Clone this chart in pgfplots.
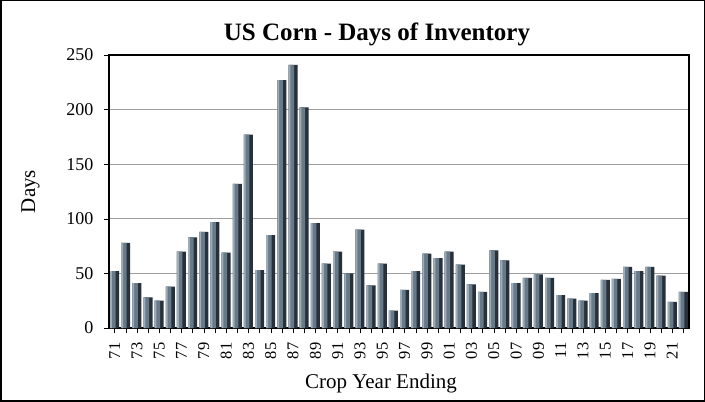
\documentclass[border=0pt]{standalone}
\usepackage{fontspec}
\setmainfont{Liberation Serif}
\usepackage{pgfplots}
\usepackage{pgfplotstable}
\pgfplotsset{compat=1.18}
\definecolor{barlight}{RGB}{155,172,186}
\definecolor{barmid}{RGB}{104,121,136}
\definecolor{bardark}{RGB}{40,48,58}

\pgfplotstableread{
x y
0 52
1 78
2 41
3 28
4 25
5 38
6 70
7 83
8 88
9 97
10 69
11 132
12 177
13 53
14 85
15 227
16 241
17 202
18 96
19 59
20 70
21 50
22 90
23 39
24 59
25 16
26 35
27 52
28 68
29 64
30 70
31 58
32 40
33 33
34 71
35 62
36 41
37 46
38 49
39 46
40 30
41 27
42 25
43 32
44 44
45 45
46 56
47 52
48 56
49 48
50 24
51 33
}\inventory

\begin{document}
\begin{tikzpicture}[x=1pt,y=1pt]
\draw[black,line width=1.5pt] (0.75,0.75) rectangle (704.25,401.25);
\begin{axis}[at={(109pt,74pt)},anchor=south west,
 scale only axis,width=580pt,height=273pt,
 ybar,
 xmin=-0.5,xmax=51.5,ymin=0,ymax=250,
 ytick={0,50,...,250},
 xtick={0,...,51},
 xticklabels={71,,73,,75,,77,,79,,81,,83,,85,,87,,89,,91,,93,,95,,97,,99,,01,,03,,05,,07,,09,,11,,13,,15,,17,,19,,21,},
 x tick label style={rotate=90,anchor=east,font=\fontsize{16.5}{16.5}\selectfont},
 xticklabel shift=6pt,
 y tick label style={font=\fontsize{18}{18}\selectfont},
 yticklabel shift=7pt,
 /pgf/number format/assume math mode=true,
 tick align=outside,tick pos=left,
 major tick length=5pt,
 tick style={black,thin},
 ymajorgrids=true,grid style={gray!75,line width=1.2pt},
 axis line style={black,line width=1.5pt},
 title={\bfseries US Corn - Days of Inventory},
 title style={font=\fontsize{25}{25}\selectfont,xshift=-22pt},
 xlabel={Crop Year Ending},ylabel={Days},
 xlabel style={font=\fontsize{21}{21}\selectfont,yshift=-8pt,xshift=-18pt},
 ylabel style={font=\fontsize{21}{21}\selectfont,yshift=20pt}]
\addplot[draw=none,fill=bardark,bar width=9pt,bar shift=0pt] table[x=x,y=y] {\inventory};
\addplot[draw=none,fill=barmid,bar width=5.5pt,bar shift=-1.75pt] table[x=x,y=y] {\inventory};
\addplot[draw=none,fill=barlight,bar width=1.8pt,bar shift=-3.6pt] table[x=x,y=y] {\inventory};
\end{axis}
\end{tikzpicture}
\end{document}
